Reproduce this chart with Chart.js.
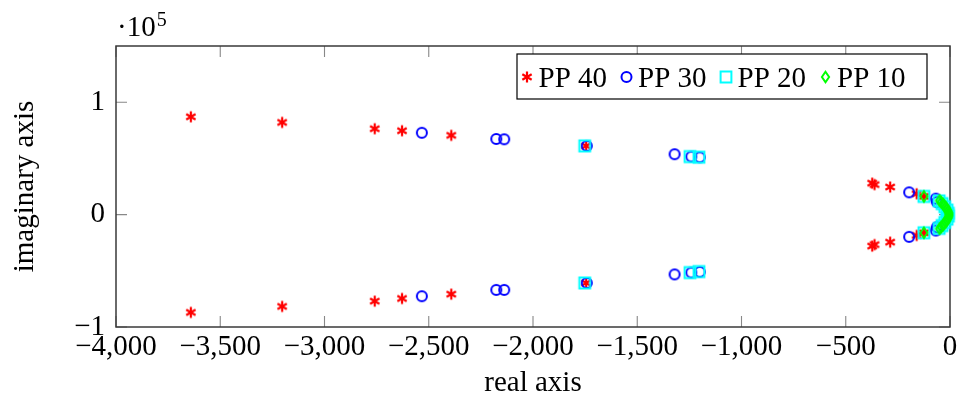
<!DOCTYPE html>
<html><head><meta charset="utf-8">
<script src="https://cdn.jsdelivr.net/npm/chart.js@4"></script>
<style>html,body{margin:0;padding:0;background:#fff;overflow:hidden}#wrap{width:957px;height:401px;position:relative}</style>
</head><body><div id="wrap"><canvas id="c" width="957" height="401"></canvas></div>
<script>
const FONT = '"Liberation Serif", "Times New Roman", serif';
const seriesLabels = ['PP 40', 'PP 30', 'PP 20', 'PP 10'];
const seriesColors = ['#ff0000', '#0000ff', '#00ffff', '#00ff00'];
const seriesMarks = ['asterisk', 'circle', 'square', 'diamond'];

// PP 40 (real, imaginary)
const pp40Re = [-3641, -3203, -2759, -2628, -2392, -1745, -373, -362, -287, -160, -125,
                -3641, -3203, -2759, -2628, -2392, -1745, -373, -362, -287, -160, -125];
const pp40Im = [87000, 82000, 76400, 74600, 70500, 61100, 28000, 26700, 24500, 18500, 16200,
                -87000, -81700, -77000, -74600, -70800, -60800, -28000, -26700, -24500, -18500, -16200];
// PP 30
const pp30Re = [-2533, -2176, -2138, -1742, -1321, -1241, -1200, -196, -68, -63,
                -2533, -2176, -2138, -1742, -1321, -1241, -1200, -196, -68, -63];
const pp30Im = [72800, 67300, 67000, 61100, 53700, 51600, 51000, 19800, 14200, 11200,
                -72600, -67000, -67000, -60800, -53200, -51600, -51000, -19800, -14200, -11200];
// PP 20
const pp20Re = [-1752, -1247, -1204, -125, -52, -38, -25, -14, -8,
                -1752, -1247, -1204, -125, -52, -38, -25, -14, -8];
const pp20Im = [61100, 51600, 51100, 16200, 12200, 9800, 7000, 4000, 1200,
                -60800, -51600, -50700, -16200, -12200, -9800, -7000, -4000, -1200];
// PP 10
const pp10Re = [-125, -50, -42, -34, -27, -20, -14, -9, -6, -5,
                -125, -50, -42, -34, -27, -20, -14, -9, -6];
const pp10Im = [16200, 12500, 11000, 9500, 8000, 6300, 4600, 3000, 1500, 0,
                -16200, -12500, -11000, -9500, -8000, -6300, -4600, -3000, -1500];

const xTicks = [-4000, -3500, -3000, -2500, -2000, -1500, -1000, -500, 0];
const yTicks = [-100000, 0, 100000];
const xRange = [-4000, 0];
const yRange = [-100000, 150000];

function drawMark(ctx, kind, x, y, color) {
  ctx.save();
  ctx.strokeStyle = color;
  ctx.lineWidth = 2;
  ctx.beginPath();
  if (kind === 'asterisk') {
    ctx.lineWidth = 2.2;
    const r = 5.4;
    [90, 30, 150].forEach(a => {
      const dx = r * Math.cos(a * Math.PI / 180), dy = r * Math.sin(a * Math.PI / 180);
      ctx.moveTo(x - dx, y - dy); ctx.lineTo(x + dx, y + dy);
    });
  } else if (kind === 'circle') {
    ctx.arc(x, y, 5, 0, Math.PI * 2);
  } else if (kind === 'square') {
    ctx.rect(x - 5.4, y - 5.4, 10.8, 10.8);
  } else if (kind === 'diamond') {
    ctx.moveTo(x, y - 5.3); ctx.lineTo(x + 3.6, y); ctx.lineTo(x, y + 5.3); ctx.lineTo(x - 3.6, y); ctx.closePath();
  }
  ctx.stroke();
  ctx.restore();
}
function makeMarker(kind, color) {
  const cv = document.createElement('canvas');
  cv.width = 18; cv.height = 18;
  drawMark(cv.getContext('2d'), kind, 9, 9, color);
  return cv;
}

const reArrays = [pp40Re, pp30Re, pp20Re, pp10Re];
const imArrays = [pp40Im, pp30Im, pp20Im, pp10Im];
// Chart.js paints dataset index 0 last, so list PP 10 first to keep it on top (as in the original)
const drawOrder = [3, 2, 1, 0];
const datasets = drawOrder.map(k => ({
  label: seriesLabels[k],
  data: reArrays[k].map((x, i) => ({x: x, y: imArrays[k][i]})),
  pointStyle: makeMarker(seriesMarks[k], seriesColors[k]),
  pointRadius: 6,
  pointHoverRadius: 6,
  borderColor: seriesColors[k],
  backgroundColor: 'transparent',
  showLine: false,
  clip: false
}));

const framePlugin = {
  id: 'frame',
  beforeDatasetsDraw(chart) {
    const {ctx, chartArea: a, scales} = chart;
    ctx.save();
    ctx.strokeStyle = '#888';
    ctx.lineWidth = 1.1;
    ctx.beginPath();
    const tl = 11;
    xTicks.forEach(v => {
      const px = scales.x.getPixelForValue(v);
      ctx.moveTo(px, a.bottom); ctx.lineTo(px, a.bottom - tl);
      ctx.moveTo(px, a.top); ctx.lineTo(px, a.top + tl);
    });
    yTicks.forEach(v => {
      const py = scales.y.getPixelForValue(v);
      ctx.moveTo(a.left, py); ctx.lineTo(a.left + tl, py);
      ctx.moveTo(a.right, py); ctx.lineTo(a.right - tl, py);
    });
    ctx.stroke();
    ctx.strokeStyle = '#3a3a3a';
    ctx.lineWidth = 1.5;
    ctx.strokeRect(a.left, a.top, a.right - a.left, a.bottom - a.top);
    ctx.restore();
  },
  afterDraw(chart) {
    const {ctx, chartArea: a} = chart;
    ctx.save();
    // scale label
    ctx.fillStyle = '#000';
    ctx.textBaseline = 'alphabetic';
    ctx.textAlign = 'left';
    ctx.font = '29px ' + FONT;
    ctx.fillText('\u00b710', a.left + 1, 36);
    const w = ctx.measureText('\u00b710').width;
    ctx.font = '20px ' + FONT;
    ctx.fillText('5', a.left + 1 + w + 1, 26);
    // legend
    const bw = 410, bh = 45;
    const bx = a.right - 23 - bw, by = a.top + 8;
    ctx.fillStyle = '#fff';
    ctx.fillRect(bx, by, bw, bh);
    ctx.strokeStyle = '#000';
    ctx.lineWidth = 1.2;
    ctx.strokeRect(bx, by, bw, bh);
    ctx.font = '29px ' + FONT;
    ctx.fillStyle = '#000';
    seriesLabels.forEach((lab, k) => {
      const mx = bx + 10 + k * 99.5;
      drawMark(ctx, seriesMarks[k], mx, by + 23, seriesColors[k]);
      ctx.fillText(lab, mx + 11.5, by + 32.5);
    });
    ctx.restore();
  }
};

const tickFont = {family: FONT, size: 29};
new Chart(document.getElementById('c'), {
  type: 'scatter',
  data: {datasets},
  options: {
    responsive: false,
    animation: false,
    devicePixelRatio: 1,
    layout: {padding: {top: 46, left: 0, right: 0, bottom: 0}},
    plugins: {legend: {display: false}, tooltip: {enabled: false}},
    events: [],
    scales: {
      x: {
        type: 'linear', min: xRange[0], max: xRange[1],
        afterBuildTicks: s => { s.ticks = xTicks.map(v => ({value: v})); },
        afterFit: s => { s.height = 74; s.paddingRight = 6; },
        grid: {display: false, drawTicks: false},
        border: {display: false},
        ticks: {
          font: tickFont, color: '#000', padding: 3, maxRotation: 0, autoSkip: false,
          callback: v => v === 0 ? '0' : (v < 0 ? '\u2212' : '') + Math.abs(v).toLocaleString('en-US')
        },
        title: {display: true, text: 'real axis', font: tickFont, color: '#000', padding: {top: 0, bottom: 0}}
      },
      y: {
        type: 'linear', min: yRange[0], max: yRange[1],
        afterBuildTicks: s => { s.ticks = yTicks.map(v => ({value: v})); },
        afterFit: s => { s.width = 116; },
        grid: {display: false, drawTicks: false},
        border: {display: false},
        ticks: {
          font: tickFont, color: '#000', padding: 11,
          callback: v => v === 0 ? '0' : (v < 0 ? '\u2212' : '') + Math.abs(v / 100000)
        },
        title: {display: true, text: 'imaginary axis', font: tickFont, color: '#000', padding: {top: 8, bottom: 0}}
      }
    }
  },
  plugins: [framePlugin]
});
</script></body></html>
